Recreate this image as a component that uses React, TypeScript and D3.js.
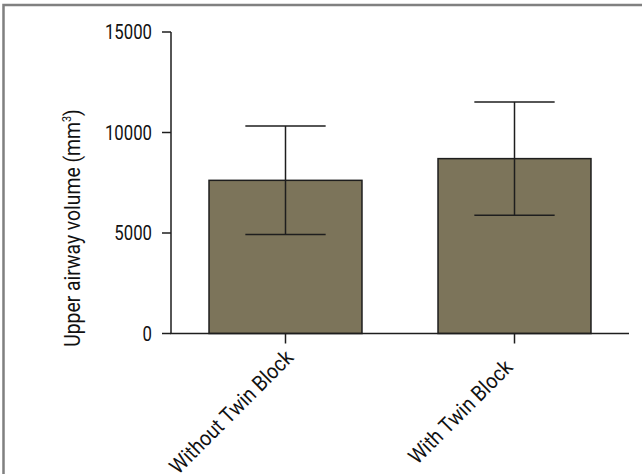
import React from "react";
import * as d3 from "d3";

const categories = ["Without Twin Block", "With Twin Block"];
const means = [7620, 8700];
const sds = [2700, 2820];
const yTicks = [0, 5000, 10000, 15000];
const yLabel = "Upper airway volume (mm";

export default function App() {
  const W = 642;
  const H = 474;
  const left = 171;
  const right = 629;
  const top = 32;
  const bottom = 333.5;
  const y = d3.scaleLinear().domain([0, 15000]).range([bottom, top]);
  const x = d3.scalePoint<string>().domain(categories).range([left, right]).padding(0.5);
  const step = x.step();
  const bw = step * 0.668;
  const capW = bw * 0.525;
  const ink = "#1e1e1e";
  const font = "Roboto, 'Liberation Sans', sans-serif";

  return (
    <svg width={W} height={H} style={{ position: "absolute", left: 0, top: 0 }} fontFamily={font}>
      <rect x={0} y={0} width={W} height={H} fill="#fff" />
      <rect x={3.5} y={5} width={W + 10} height={H + 10} fill="none" stroke="#808080" strokeWidth={2.5} />
      {categories.map((c, i) => {
        const cx = x(c)!;
        return (
          <g key={c}>
            <rect x={cx - bw / 2} y={y(means[i])} width={bw} height={bottom - y(means[i])} fill="#7c745a" stroke={ink} strokeWidth={1.5} />
            <line x1={cx} x2={cx} y1={y(means[i] + sds[i])} y2={y(means[i] - sds[i])} stroke={ink} strokeWidth={1.5} />
            <line x1={cx - capW / 2} x2={cx + capW / 2} y1={y(means[i] + sds[i])} y2={y(means[i] + sds[i])} stroke={ink} strokeWidth={1.5} />
            <line x1={cx - capW / 2} x2={cx + capW / 2} y1={y(means[i] - sds[i])} y2={y(means[i] - sds[i])} stroke={ink} strokeWidth={1.5} />
          </g>
        );
      })}
      <line x1={left} x2={left} y1={top} y2={bottom} stroke={ink} strokeWidth={1.5} />
      <line x1={left - 0.75} x2={right} y1={bottom} y2={bottom} stroke={ink} strokeWidth={1.5} />
      {yTicks.map((t) => (
        <g key={t}>
          <line x1={left - 9} x2={left} y1={y(t)} y2={y(t)} stroke={ink} strokeWidth={1.5} />
          <text
            transform={`translate(${left - 19},${y(t)}) scale(0.86,1)`}
            dy="0.36em"
            textAnchor="end"
            fontSize={19.5}
            fill="#111"
          >
            {t}
          </text>
        </g>
      ))}
      {categories.map((c) => {
        const cx = x(c)!;
        return (
          <g key={c}>
            <line x1={cx} x2={cx} y1={bottom} y2={bottom + 10} stroke={ink} strokeWidth={1.5} />
            <text
              transform={`translate(${cx - 49},${417}) rotate(-45) scale(0.9,1)`}
              textAnchor="middle"
              fontSize={21.5}
              fill="#111"
            >
              {c}
            </text>
          </g>
        );
      })}
      <text transform={`translate(80,228) rotate(-90) scale(0.9,1)`} textAnchor="middle" fontSize={21.5} fill="#111">
        {yLabel}
        <tspan fontSize={12} dy="-9">3</tspan>
        <tspan dy="9">)</tspan>
      </text>
    </svg>
  );
}
